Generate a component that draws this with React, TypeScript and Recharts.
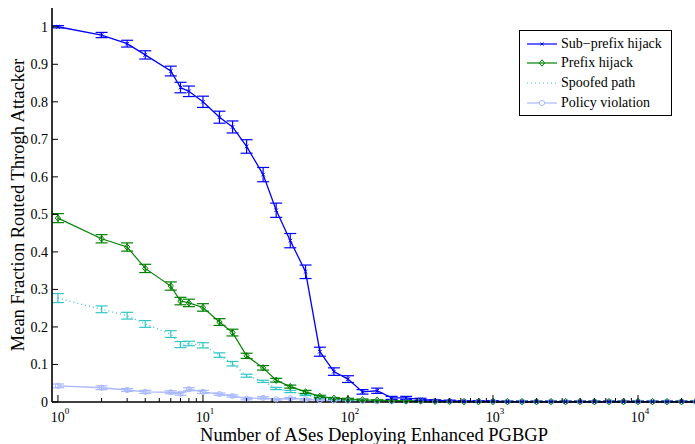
import React from "react";
import { LineChart, Line, XAxis, YAxis, ErrorBar, Legend } from "recharts";

// number of ASes deploying (x), one value per simulation step
const deployed = [
  1, 2, 3, 4, 6, 7, 8, 10, 13, 16, 20, 26, 32, 40, 51, 64, 80, 100, 126, 159, 200,
  252, 317, 399, 502, 631, 795, 1000, 1259, 1585, 1996, 2512, 3163, 3982, 5012,
  6310, 7944, 10000, 12590, 15849, 19953, 25119,
];

const subPrefix = [
  1.0, 0.978, 0.955, 0.925, 0.882, 0.838, 0.828, 0.8, 0.759, 0.733, 0.681, 0.606,
  0.511, 0.43, 0.347, 0.134, 0.081, 0.061, 0.027, 0.03, 0.011, 0.011, 0.007, 0.004,
  0.003, 0.002, 0.002, 0.002, 0.001, 0.001, 0.001, 0.001, 0.001, 0.001, 0.001,
  0.001, 0.001, 0.001, 0.001, 0.001, 0.001, 0.001,
];
const subPrefixErr = [
  0.003, 0.007, 0.009, 0.011, 0.013, 0.014, 0.014, 0.015, 0.016, 0.016, 0.018,
  0.019, 0.019, 0.019, 0.018, 0.012, 0.01, 0.009, 0.006, 0.007, 0.004, 0.004,
  0.003, 0.002, 0.002, 0.001, 0.001, 0.001, 0.001, 0.001, 0.001, 0.001, 0.001,
  0.001, 0.001, 0.001, 0.001, 0.001, 0.001, 0.001, 0.001, 0.001,
];

const prefix = [
  0.49, 0.435, 0.413, 0.356, 0.309, 0.269, 0.264, 0.252, 0.213, 0.185, 0.123,
  0.091, 0.058, 0.041, 0.027, 0.015, 0.01, 0.008, 0.006, 0.005, 0.004, 0.003,
  0.003, 0.002, 0.002, 0.001, 0.001, 0.001, 0.001, 0.001, 0.001, 0.001, 0.001,
  0.001, 0.001, 0.001, 0.001, 0.001, 0.001, 0.001, 0.001, 0.001,
];
const prefixErr = [
  0.012, 0.011, 0.011, 0.011, 0.011, 0.01, 0.01, 0.01, 0.009, 0.009, 0.007, 0.006,
  0.005, 0.004, 0.004, 0.003, 0.002, 0.002, 0.002, 0.001, 0.001, 0.001, 0.001,
  0.001, 0.001, 0.001, 0.001, 0.001, 0.001, 0.001, 0.001, 0.001, 0.001, 0.001,
  0.001, 0.001, 0.001, 0.001, 0.001, 0.001, 0.001, 0.001,
];

const spoofed = [
  0.277, 0.247, 0.23, 0.208, 0.181, 0.153, 0.156, 0.151, 0.125, 0.102, 0.07,
  0.055, 0.036, 0.028, 0.019, 0.011, 0.007, 0.005, 0.004, 0.003, 0.002, 0.002,
  0.001, 0.001, 0.001, 0.001, 0.001, 0.001, 0.001, 0.001, 0.001, 0.001, 0.001,
  0.001, 0.001, 0.001, 0.001, 0.001, 0.001, 0.001, 0.001, 0.001,
];
const spoofedErr = [
  0.012, 0.009, 0.009, 0.009, 0.009, 0.008, 0.006, 0.007, 0.006, 0.006, 0.004,
  0.003, 0.003, 0.003, 0.002, 0.002, 0.001, 0.001, 0.001, 0.001, 0.001, 0.001,
  0.001, 0.001, 0.001, 0.001, 0.001, 0.001, 0.001, 0.001, 0.001, 0.001, 0.001,
  0.001, 0.001, 0.001, 0.001, 0.001, 0.001, 0.001, 0.001, 0.001,
];

const policy = [
  0.043, 0.038, 0.032, 0.027, 0.026, 0.022, 0.034, 0.027, 0.021, 0.016, 0.009,
  0.011, 0.007, 0.01, 0.007, 0.005, 0.004, 0.003, 0.003, 0.002, 0.002, 0.002,
  0.002, 0.001, 0.001, 0.001, 0.001, 0.001, 0.001, 0.001, 0.001, 0.001, 0.001,
  0.001, 0.001, 0.001, 0.001, 0.001, 0.001, 0.001, 0.001, 0.001,
];
const policyErr = [
  0.005, 0.005, 0.004, 0.004, 0.004, 0.004, 0.004, 0.004, 0.003, 0.003, 0.003,
  0.003, 0.002, 0.002, 0.002, 0.002, 0.001, 0.001, 0.001, 0.001, 0.001, 0.001,
  0.001, 0.001, 0.001, 0.001, 0.001, 0.001, 0.001, 0.001, 0.001, 0.001, 0.001,
  0.001, 0.001, 0.001, 0.001, 0.001, 0.001, 0.001, 0.001, 0.001,
];

const yTicks = [0, 0.1, 0.2, 0.3, 0.4, 0.5, 0.6, 0.7, 0.8, 0.9, 1];
const decades = [1, 10, 100, 1000, 10000];
const xTicks = decades.flatMap((d) => [1, 2, 3, 4, 5, 6, 7, 8, 9].map((m) => m * d));

const data = deployed.map((x, i) => ({
  x,
  sub: subPrefix[i],
  subErr: subPrefixErr[i],
  prefix: prefix[i],
  prefixErr: prefixErr[i],
  spoofed: spoofed[i],
  spoofedErr: spoofedErr[i],
  policy: policy[i],
  policyErr: policyErr[i],
}));

const FONT = "'Liberation Serif', 'Times New Roman', serif";
const BLUE = "#0000ff";
const GREEN = "#008000";
const CYAN = "#33c6c6";
const LIGHT = "#a9b9ff";

const isMajor = (v: number) => decades.includes(v);

const BottomTick = (p: any) => {
  const { x, y, payload } = p;
  const v = payload.value;
  const len = isMajor(v) ? 7 : 4;
  return (
    <g>
      <line x1={x} y1={y} x2={x} y2={y - len} stroke="#000" strokeWidth={1} />
      {isMajor(v) && (
        <text x={x + 2} y={y + 20} textAnchor="middle" fontFamily={FONT} fontSize={14} fill="#000">
          10
          <tspan dy={-8} fontSize={9}>
            {Math.round(Math.log10(v))}
          </tspan>
        </text>
      )}
    </g>
  );
};

const TopTick = (p: any) => {
  const { x, y, payload } = p;
  const len = isMajor(payload.value) ? 7 : 4;
  return <line x1={x} y1={y} x2={x} y2={y + len} stroke="#000" strokeWidth={1} />;
};

const LeftTick = (p: any) => {
  const { x, y, payload } = p;
  return (
    <g>
      <line x1={x} y1={y} x2={x + 6} y2={y} stroke="#000" strokeWidth={1} />
      <text x={x - 4} y={y} dy="0.35em" textAnchor="end" fontFamily={FONT} fontSize={14} fill="#000">
        {String(payload.value)}
      </text>
    </g>
  );
};

const RightTick = (p: any) => {
  const { x, y } = p;
  return <line x1={x} y1={y} x2={x - 6} y2={y} stroke="#000" strokeWidth={1} />;
};

const CrossDot = (p: any) => {
  const { cx, cy, index } = p;
  if (cx == null || cy == null) return <g key={index} />;
  return (
    <path
      key={index}
      d={`M${cx - 1.8},${cy - 1.8}L${cx + 1.8},${cy + 1.8}M${cx - 1.8},${cy + 1.8}L${cx + 1.8},${cy - 1.8}`}
      stroke={BLUE}
      strokeWidth={1}
    />
  );
};

const DiamondDot = (p: any) => {
  const { cx, cy, index } = p;
  if (cx == null || cy == null) return <g key={index} />;
  return (
    <path
      key={index}
      d={`M${cx},${cy - 3.2}L${cx + 2.6},${cy}L${cx},${cy + 3.2}L${cx - 2.6},${cy}Z`}
      stroke={GREEN}
      fill="none"
      strokeWidth={1}
    />
  );
};

const CircleDot = (p: any) => {
  const { cx, cy, index } = p;
  if (cx == null || cy == null) return <g key={index} />;
  return <circle key={index} cx={cx} cy={cy} r={2.6} stroke={LIGHT} fill="none" strokeWidth={1} />;
};

const legendRows = [
  { name: "Sub\u2212prefix hijack", color: BLUE, kind: "x" },
  { name: "Prefix hijack", color: GREEN, kind: "diamond" },
  { name: "Spoofed path", color: CYAN, kind: "dotted" },
  { name: "Policy violation", color: LIGHT, kind: "circle" },
];

const LegendBox = () => (
  <div
    style={{
      width: 151,
      height: 81,
      border: "1px solid #000",
      background: "#fff",
      fontFamily: FONT,
      fontSize: 14,
      paddingTop: 3,
      boxSizing: "content-box",
      color: "#000",
    }}
  >
    {legendRows.map((r) => (
      <div key={r.name} style={{ height: 19.6, display: "flex", alignItems: "center", paddingLeft: 7 }}>
        <svg width={30} height={10} style={{ marginRight: 4, flex: "none" }}>
          <line
            x1={0}
            y1={5}
            x2={30}
            y2={5}
            stroke={r.color}
            strokeWidth={1.2}
            strokeDasharray={r.kind === "dotted" ? "1 3" : undefined}
          />
          {r.kind === "x" && <path d="M13.5,3.5L16.5,6.5M13.5,6.5L16.5,3.5" stroke={r.color} strokeWidth={1} />}
          {r.kind === "diamond" && <path d="M15,1.8L17.6,5L15,8.2L12.4,5Z" stroke={r.color} fill="none" />}
          {r.kind === "circle" && <circle cx={15} cy={5} r={2.6} stroke={r.color} fill="#fff" />}
        </svg>
        <span style={{ whiteSpace: "nowrap", lineHeight: "14px" }}>{r.name}</span>
      </div>
    ))}
  </div>
);

export default function App() {
  return (
    <div style={{ position: "absolute", left: 0, top: 0, width: 695, height: 444, overflow: "hidden", background: "#fff" }}>
      <LineChart width={700} height={444} data={data} margin={{ top: 8, right: 4, left: 0, bottom: 0 }}>
        <XAxis
          xAxisId="b"
          dataKey="x"
          type="number"
          scale="log"
          domain={[0.91, 25119]}
          allowDataOverflow
          ticks={xTicks}
          interval={0}
          tickSize={0}
          tickMargin={0}
          tickLine={false}
          tick={(p: any) => <BottomTick {...p} />}
          axisLine={{ stroke: "#000", strokeWidth: 1.6 }}
          height={42}
          label={{
            value: "Number of ASes Deploying Enhanced PGBGP",
            position: "insideBottom",
            offset: 3,
            style: { fontFamily: FONT, fontSize: 18.5, fill: "#000" },
          }}
        />
        <XAxis
          xAxisId="t"
          orientation="top"
          dataKey="x"
          type="number"
          scale="log"
          domain={[0.91, 25119]}
          allowDataOverflow
          ticks={xTicks}
          interval={0}
          tickSize={0}
          tickMargin={0}
          tickLine={false}
          tick={(p: any) => <TopTick {...p} />}
          axisLine={{ stroke: "#000", strokeWidth: 1.6 }}
          height={0}
        />
        <YAxis
          yAxisId="l"
          type="number"
          domain={[0, 1.05]}
          ticks={yTicks}
          interval={0}
          tickSize={0}
          tickMargin={0}
          tickLine={false}
          tick={(p: any) => <LeftTick {...p} />}
          axisLine={{ stroke: "#000", strokeWidth: 1.6 }}
          width={52}
          label={{
            value: "Mean Fraction Routed Throgh Attacker",
            angle: -90,
            position: "insideLeft",
            offset: 17,
            style: { fontFamily: FONT, fontSize: 18.5, fill: "#000", textAnchor: "middle" },
          }}
        />
        <YAxis
          yAxisId="r"
          orientation="right"
          type="number"
          domain={[0, 1.05]}
          ticks={yTicks}
          interval={0}
          tickSize={0}
          tickMargin={0}
          tickLine={false}
          tick={(p: any) => <RightTick {...p} />}
          axisLine={{ stroke: "#000", strokeWidth: 1.6 }}
          width={0}
        />
        <Line
          xAxisId="b"
          yAxisId="l"
          dataKey="policy"
          stroke={LIGHT}
          strokeWidth={1.3}
          dot={(p: any) => <CircleDot key={p.index} {...p} />}
          activeDot={false}
          isAnimationActive={false}
        >
          <ErrorBar dataKey="policyErr" direction="y" width={6} stroke={LIGHT} strokeWidth={1.2} />
        </Line>
        <Line
          xAxisId="b"
          yAxisId="l"
          dataKey="spoofed"
          stroke={CYAN}
          strokeWidth={1.2}
          strokeDasharray="1 3"
          dot={false}
          activeDot={false}
          isAnimationActive={false}
        >
          <ErrorBar dataKey="spoofedErr" direction="y" width={6} stroke={CYAN} strokeWidth={1.2} />
        </Line>
        <Line
          xAxisId="b"
          yAxisId="l"
          dataKey="prefix"
          stroke={GREEN}
          strokeWidth={1.2}
          dot={(p: any) => <DiamondDot key={p.index} {...p} />}
          activeDot={false}
          isAnimationActive={false}
        >
          <ErrorBar dataKey="prefixErr" direction="y" width={6} stroke={GREEN} strokeWidth={1.2} />
        </Line>
        <Line
          xAxisId="b"
          yAxisId="l"
          dataKey="sub"
          stroke={BLUE}
          strokeWidth={1.3}
          dot={(p: any) => <CrossDot key={p.index} {...p} />}
          activeDot={false}
          isAnimationActive={false}
        >
          <ErrorBar dataKey="subErr" direction="y" width={6} stroke={BLUE} strokeWidth={1.2} />
        </Line>
        <Legend
          layout="vertical"
          align="center"
          verticalAlign="middle"
          content={() => <LegendBox />}
          wrapperStyle={{ position: "absolute", left: 519, top: 30, width: 153, height: 85 }}
        />
      </LineChart>
    </div>
  );
}
